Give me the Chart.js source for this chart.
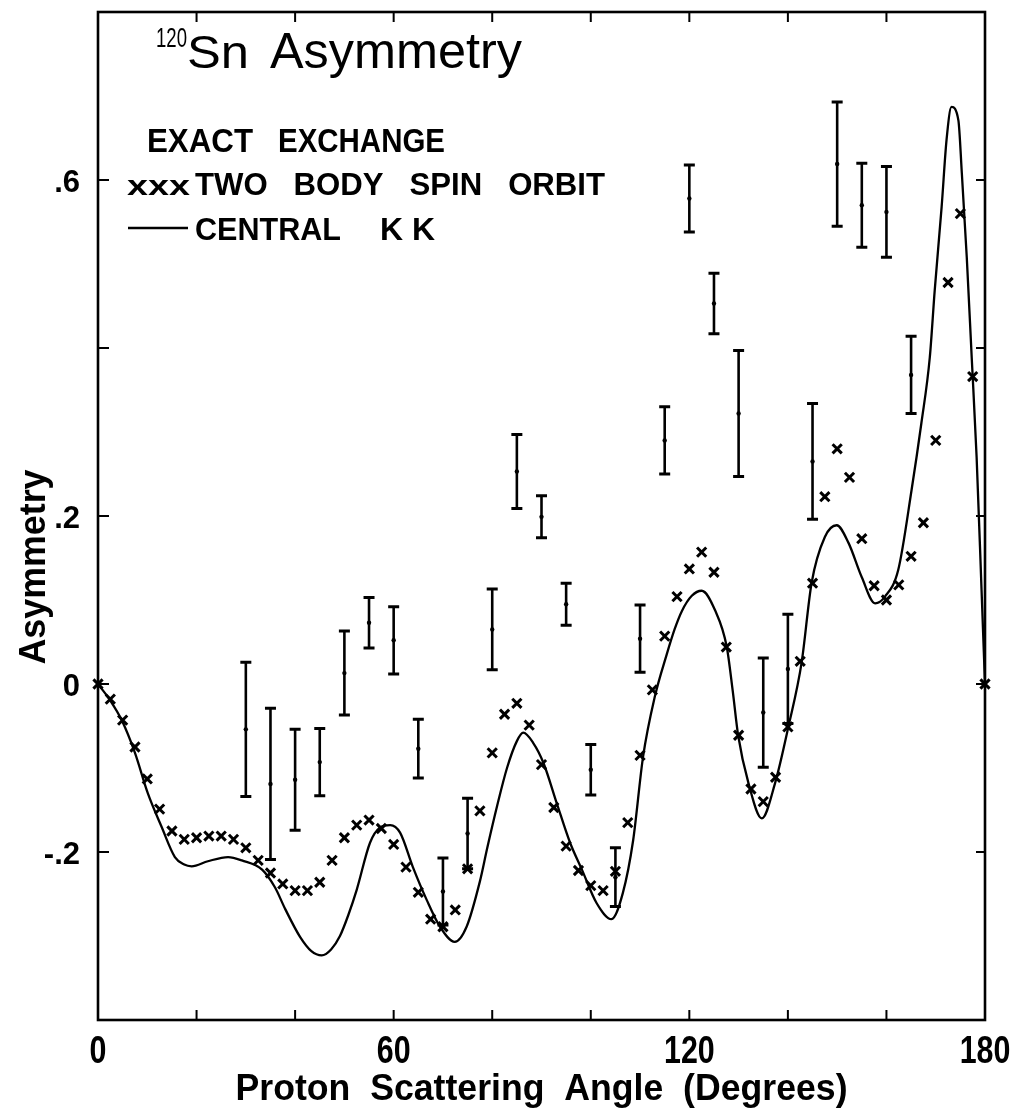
<!DOCTYPE html>
<html>
<head>
<meta charset="utf-8">
<title>120Sn Asymmetry</title>
<script src="https://cdn.jsdelivr.net/npm/chart.js@4.4.1/dist/chart.umd.min.js"></script>
<style>
  html, body { margin: 0; padding: 0; background: #fff; }
  canvas { display: block; }
</style>
</head>
<body>
<canvas id="asym-chart" width="1012" height="1110"></canvas>
<script>
// Central KK calculation (solid curve)
const kkAngles = [0, 2.4, 4.8, 7.5, 10.1, 12.9, 15.6, 17.5, 19.0, 22.3, 26.4, 29.2, 33.3, 35.9, 38.0,
  41.0, 43.3, 45.4, 47.3, 49.1, 50.8, 52.5, 55.2, 57.2, 59.3, 61.3, 63.9, 66.7, 69.4, 72.4, 74.8,
  77.5, 79.0, 81.0, 83.0, 85.0, 86.3, 88.3, 90.4, 93.1, 95.8, 98.2, 101.2, 104.2, 106.5, 108.6, 110.6,
  113.0, 115.4, 117.0, 118.5, 120.5, 122.5, 125.2, 127.6, 128.8, 129.9, 132.0, 134.7, 137.4, 140.1, 142.8,
  144.8, 147.5, 149.9, 152.3, 155.0, 157.7, 159.7, 162.4, 165.1, 167.1, 168.8, 169.8, 171.2, 172.2,
  173.2, 174.6, 175.3, 176.3, 177.3, 178.3, 179.3, 180];
const kkValues = [0, -0.019, -0.043, -0.082, -0.130, -0.170, -0.206, -0.215, -0.217, -0.211, -0.206, -0.210, -0.221, -0.242, -0.268,
  -0.301, -0.318, -0.323, -0.316, -0.300, -0.275, -0.245, -0.189, -0.171, -0.168, -0.177, -0.218, -0.257, -0.289, -0.307, -0.289,
  -0.235, -0.195, -0.145, -0.100, -0.068, -0.058, -0.070, -0.094, -0.142, -0.189, -0.221, -0.261, -0.280, -0.249, -0.186, -0.087,
  -0.015, 0.035, 0.065, 0.087, 0.105, 0.111, 0.088, 0.044, -0.008, -0.061, -0.118, -0.160, -0.118, -0.051, 0.026,
  0.120, 0.175, 0.189, 0.168, 0.127, 0.096, 0.104, 0.136, 0.231, 0.311, 0.389, 0.469, 0.568, 0.648,
  0.687, 0.671, 0.608, 0.508, 0.389, 0.270, 0.112, 0];

// Two body spin orbit calculation (x marks)
const soAngles = [0, 2.5, 5, 7.5, 10, 12.5, 15, 17.5, 20, 22.5, 25, 27.5, 30, 32.5, 35, 37.5, 40, 42.5,
  45, 47.5, 50, 52.5, 55, 57.5, 60, 62.5, 65, 67.5, 70, 72.5, 75, 77.5, 80, 82.5, 85, 87.5,
  90, 92.5, 95, 97.5, 100, 102.5, 105, 107.5, 110, 112.5, 115, 117.5, 120, 122.5, 125, 127.5,
  130, 132.5, 135, 137.5, 140, 142.5, 145, 147.5, 150, 152.5, 155, 157.5, 160, 162.5, 165, 167.5,
  170, 172.5, 175, 177.5, 180];
const soValues = [0, -0.018, -0.043, -0.075, -0.113, -0.149, -0.175, -0.185, -0.183, -0.181, -0.181, -0.185, -0.195, -0.210, -0.225, -0.238, -0.246, -0.246,
  -0.236, -0.210, -0.183, -0.168, -0.162, -0.172, -0.191, -0.218, -0.248, -0.280, -0.289, -0.269, -0.220, -0.151, -0.082, -0.036, -0.023, -0.049,
  -0.096, -0.147, -0.193, -0.222, -0.240, -0.246, -0.223, -0.165, -0.085, -0.007, 0.057, 0.104, 0.137, 0.157, 0.133, 0.044,
  -0.061, -0.125, -0.140, -0.111, -0.051, 0.027, 0.120, 0.223, 0.280, 0.246, 0.173, 0.117, 0.100, 0.118, 0.152, 0.192,
  0.290, 0.478, 0.560, 0.366, 0];

// Measured asymmetry with errors
const expAngles = [30, 35, 40, 45, 50, 55, 60, 65, 70, 75, 80, 85, 90, 95, 100, 105, 110, 115,
  120, 125, 130, 135, 140, 145, 150, 155, 160, 165];
const expValues = [-0.054, -0.119, -0.114, -0.093, 0.013, 0.073, 0.052, -0.077, -0.247, -0.178, 0.065, 0.253, 0.199, 0.095, -0.102, -0.230, 0.054, 0.290,
  0.578, 0.453, 0.322, -0.034, 0.018, 0.265, 0.619, 0.570, 0.562, 0.368];
const expErrors = [0.080, 0.090, 0.060, 0.040, 0.050, 0.030, 0.040, 0.035, 0.040, 0.042, 0.048, 0.044, 0.025, 0.025, 0.030, 0.035, 0.040, 0.040,
  0.040, 0.036, 0.075, 0.065, 0.065, 0.069, 0.074, 0.050, 0.054, 0.046];

// Axis ticks and labels
const xTickMarks = [20, 40, 60, 80, 100, 120, 140, 160];
const xTickLabels = [0, 60, 120, 180];
const yTickMarks = [-0.2, 0, 0.2, 0.4, 0.6];
const yTickValues = [0.6, 0.2, 0, -0.2];
const yTickLabels = ['.6', '.2', '0', '-.2'];

const FONT = "'Liberation Sans', Arial, sans-serif";

// draw text, optionally squeezed/stretched to a given width
function drawText(ctx, text, x, y, opts) {
    const o = Object.assign({ size: 30, weight: 'bold', align: 'left', width: null, sx: 1, rotate: 0 }, opts);
    ctx.save();
    ctx.font = o.weight + ' ' + o.size + 'px ' + FONT;
    ctx.fillStyle = '#000';
    ctx.textBaseline = 'alphabetic';
    const w = ctx.measureText(text).width;
    const sx = o.width ? o.width / w : o.sx;
    ctx.translate(x, y);
    if (o.rotate) ctx.rotate(o.rotate);
    ctx.scale(sx, 1);
    let dx = 0;
    if (o.align === 'center') dx = -w / 2;
    if (o.align === 'right') dx = -w;
    ctx.fillText(text, dx, 0);
    ctx.restore();
}

// Frame, inward ticks, tick labels and all the lettering
const figureFrame = {
    id: 'figureFrame',
    afterDraw(chart) {
        const { ctx, chartArea: a, scales: { x, y } } = chart;
        ctx.save();
        ctx.strokeStyle = '#000';
        ctx.lineWidth = 2.6;
        ctx.strokeRect(a.left, a.top, a.right - a.left, a.bottom - a.top);

        ctx.lineWidth = 2;
        ctx.beginPath();
        xTickMarks.forEach(v => {
            const px = x.getPixelForValue(v);
            ctx.moveTo(px, a.bottom);
            ctx.lineTo(px, a.bottom - 10);
            ctx.moveTo(px, a.top);
            ctx.lineTo(px, a.top + 10);
        });
        yTickMarks.forEach(v => {
            const py = y.getPixelForValue(v);
            ctx.moveTo(a.left, py);
            ctx.lineTo(a.left + 11, py);
            ctx.moveTo(a.right, py);
            ctx.lineTo(a.right - 9, py);
        });
        ctx.stroke();
        ctx.restore();

        xTickLabels.forEach(v => {
            drawText(ctx, String(v), x.getPixelForValue(v), a.bottom + 43, { size: 38, align: 'center', sx: 0.8 });
        });
        yTickValues.forEach((v, i) => {
            drawText(ctx, yTickLabels[i], a.left - 18, y.getPixelForValue(v) + 12, { size: 31, align: 'right' });
        });

        // axis titles
        drawText(ctx, 'Proton  Scattering  Angle  (Degrees)', (a.left + a.right) / 2, 1100,
            { size: 37, align: 'center', width: 612 });
        drawText(ctx, 'Asymmetry', 45, 567, { size: 36, align: 'center', width: 195, rotate: -Math.PI / 2 });

        // heading
        drawText(ctx, '120', 156, 47, { size: 27, weight: 'normal', width: 31 });
        drawText(ctx, 'Sn', 187, 68, { size: 47, weight: 'normal', width: 62 });
        drawText(ctx, 'Asymmetry', 270, 68, { size: 50, weight: 'normal', width: 252 });

        // key
        drawText(ctx, 'EXACT', 147, 152, { size: 33, width: 106 });
        drawText(ctx, 'EXCHANGE', 278, 152, { size: 33, width: 167 });
        drawText(ctx, 'xxx', 127, 195, { size: 27, width: 63 });
        drawText(ctx, 'TWO   BODY   SPIN   ORBIT', 195, 195, { size: 31, width: 410 });
        drawText(ctx, 'CENTRAL', 195, 240, { size: 31, width: 146 });
        drawText(ctx, 'K K', 380, 240, { size: 31, width: 55 });
        ctx.save();
        ctx.strokeStyle = '#000';
        ctx.lineWidth = 2.4;
        ctx.beginPath();
        ctx.moveTo(128, 228);
        ctx.lineTo(188, 228);
        ctx.stroke();
        ctx.restore();
    }
};

// vertical error bars with caps on the measured points
const errorBars = {
    id: 'errorBars',
    afterDatasetsDraw(chart) {
        const { ctx, scales: { x, y } } = chart;
        ctx.save();
        ctx.strokeStyle = '#000';
        ctx.lineCap = 'butt';
        expAngles.forEach((ang, i) => {
            const px = x.getPixelForValue(ang);
            const top = y.getPixelForValue(expValues[i] + expErrors[i]);
            const bot = y.getPixelForValue(expValues[i] - expErrors[i]);
            ctx.lineWidth = 2.6;
            ctx.beginPath();
            ctx.moveTo(px, top);
            ctx.lineTo(px, bot);
            ctx.stroke();
            ctx.lineWidth = 3;
            ctx.beginPath();
            ctx.moveTo(px - 5.5, top);
            ctx.lineTo(px + 5.5, top);
            ctx.moveTo(px - 5.5, bot);
            ctx.lineTo(px + 5.5, bot);
            ctx.stroke();
        });
        ctx.restore();
    }
};

const ctx = document.getElementById('asym-chart').getContext('2d');

const asymChart = new Chart(ctx, {
    type: 'scatter',
    data: {
        datasets: [{
            label: 'CENTRAL KK',
            data: kkAngles.map((a, i) => ({ x: a, y: kkValues[i] })),
            showLine: true,
            borderColor: '#000',
            borderWidth: 2.3,
            pointRadius: 0,
            cubicInterpolationMode: 'monotone',
            fill: false
        }, {
            label: 'TWO BODY SPIN ORBIT',
            data: soAngles.map((a, i) => ({ x: a, y: soValues[i] })),
            showLine: false,
            pointStyle: 'crossRot',
            pointRadius: 6.5,
            borderColor: '#000',
            borderWidth: 3,
            clip: false
        }, {
            label: 'Data',
            data: expAngles.map((a, i) => ({ x: a, y: expValues[i] })),
            showLine: false,
            pointRadius: 2.2,
            backgroundColor: '#000',
            borderColor: '#000',
            borderWidth: 0
        }]
    },
    options: {
        responsive: false,
        animation: false,
        devicePixelRatio: 1,
        layout: {
            padding: { left: 98, right: 27, top: 12, bottom: 90 }
        },
        plugins: {
            legend: { display: false },
            tooltip: { enabled: false }
        },
        scales: {
            x: { type: 'linear', min: 0, max: 180, display: false },
            y: { type: 'linear', min: -0.4, max: 0.8, display: false }
        }
    },
    plugins: [errorBars, figureFrame]
});
</script>
</body>
</html>
